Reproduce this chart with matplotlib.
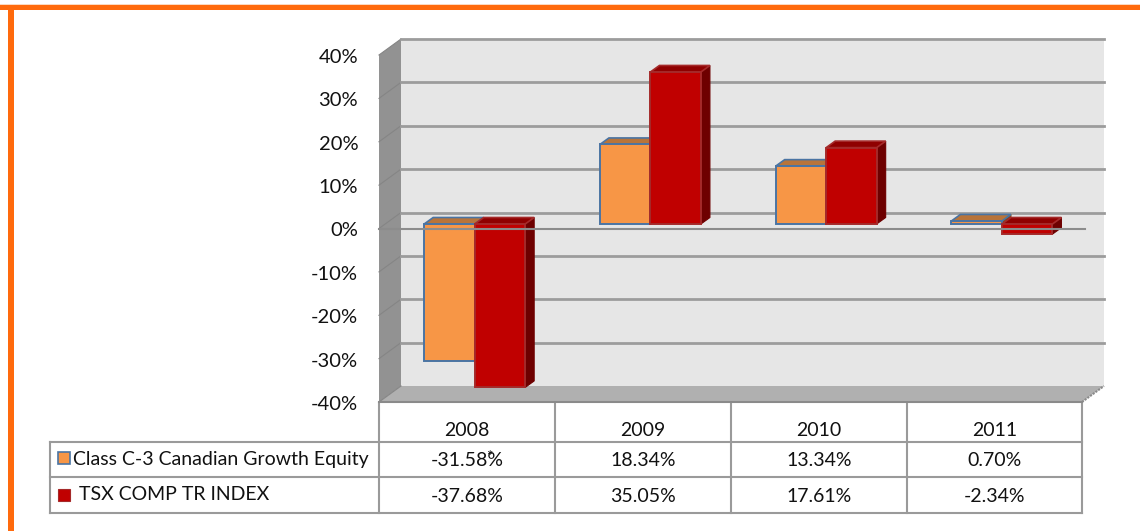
import numpy as np
import matplotlib
matplotlib.use('Agg')
import matplotlib.pyplot as plt
from matplotlib.patches import Polygon, Rectangle
from matplotlib.transforms import ScaledTranslation

plt.rcParams['font.family'] = ['Lato', 'DejaVu Sans']

years = ['2008', '2009', '2010', '2011']
fund_name = 'Class C-3 Canadian Growth Equity'
index_name = 'TSX COMP TR INDEX'
fund_vals = [-31.58, 18.34, 13.34, 0.70]
index_vals = [-37.68, 35.05, 17.61, -2.34]
yticks = [-40, -30, -20, -10, 0, 10, 20, 30, 40]

W, H = 1140, 531
fig = plt.figure(figsize=(W / 100, H / 100), dpi=100)

# overlay in pixels for the frame and the table
bg = fig.add_axes([0, 0, 1, 1])
bg.set_xlim(0, W)
bg.set_ylim(H, 0)
bg.axis('off')

# front plane of the 3d box
left, right, top, bottom = 379, 1082, 55, 402
ax = fig.add_axes([left / W, 1 - bottom / H, (right - left) / W, (bottom - top) / H])
ax.set_xlim(0, 4)
ax.set_ylim(-40, 40)
ax.patch.set_alpha(0)
for s in ax.spines.values():
    s.set_visible(False)

ux = (right - left) / 4
uy = (bottom - top) / 80


def px(dx, dy):
    return dx / ux, dy / uy


# walls
wx, wy = px(22, 16)
ax.add_patch(Polygon([(0, -40), (wx, -40 + wy), (wx, 40 + wy), (0, 40)], fc='#929292', ec='none', clip_on=False, zorder=1))
ax.add_patch(Polygon([(wx, -40 + wy), (4 + wx, -40 + wy), (4 + wx, 40 + wy), (wx, 40 + wy)], fc='#e6e6e6', ec='none', clip_on=False, zorder=1))
ax.add_patch(Polygon([(0, -40), (4, -40), (4 + wx, -40 + wy), (wx, -40 + wy)], fc='#b0b0b0', ec='none', clip_on=False, zorder=2))
for t in yticks:
    if t > -40:
        ax.plot([wx, 4 + wx], [t + wy, t + wy], color='#9c9c9c', lw=2, clip_on=False, zorder=3)
    ax.plot([0, wx], [t, t + wy], color='#858585', lw=0.8, clip_on=False, zorder=2)
ax.plot([4, 4 + wx], [-40, -40 + wy], color='#8a8a8a', lw=1.5, ls=(0, (1, 0.6)), clip_on=False, zorder=3)
ax.plot([0, 4], [-40, -40], color='#8a8a8a', lw=1.5, clip_on=False, zorder=3)


def bar3d(x0, val, width, front, side, topc, edge, z):
    ox, oy = px(7.8, 4.5)
    dx, dy = px(9, 6.5)
    x0 = x0 + ox
    x1 = x0 + width
    y0, y1 = oy, val + oy
    hi = max(y0, y1)
    ax.add_patch(Polygon([(x1, y0), (x1 + dx, y0 + dy), (x1 + dx, y1 + dy), (x1, y1)], fc=side, ec=side, lw=0.8, clip_on=False, zorder=z))
    ax.add_patch(Polygon([(x0, hi), (x1, hi), (x1 + dx, hi + dy), (x0 + dx, hi + dy)], fc=topc, ec=edge, lw=1.2, clip_on=False, zorder=z))
    ax.add_patch(Rectangle((x0, min(y0, y1)), width, abs(val), fc=front, ec=edge, lw=1.4, clip_on=False, zorder=z + 0.1))


bw = 50.5 / ux
for i in range(len(years)):
    c = i + 0.5
    bar3d(c - bw, fund_vals[i], bw, '#f79646', '#7a4a20', '#b8743a', '#4a74a3', 4)
    bar3d(c, index_vals[i], bw, '#c00000', '#6e0000', '#8f0000', '#a52a2a', 5)

# zero line sits in the front of the bars
ax.plot([0, 4 + px(3, 0)[0]], [0, 0], color='#8c8c8c', lw=1.5, clip_on=False, zorder=7)

ax.set_xticks([])
ax.set_yticks(yticks)
ax.set_yticklabels([f'{t}%' for t in yticks], fontsize=14.5, color='#111111')
ax.tick_params(axis='y', length=0, pad=15)
for lab in ax.get_yticklabels():
    lab.set_transform(lab.get_transform() + ScaledTranslation(0, -0.7 / 72, fig.dpi_scale_trans))

# page frame
bg.add_patch(Rectangle((0, 4), W, 1, fc='#fcd9c0', ec='none'))
bg.add_patch(Rectangle((0, 5), W, 5, fc='#ff6a0d', ec='none'))
bg.add_patch(Rectangle((8, 5), 5.5, H, fc='#ff6a0d', ec='none'))

# data table
cols = [379, 555, 731, 907, 1082]
rows = [442, 477, 513]
line = dict(color='#9a9a9a', lw=1.5, zorder=3)
bg.plot([50, 1082], [rows[0], rows[0]], **line)
bg.plot([50, 1082], [rows[1], rows[1]], **line)
bg.plot([50, 1082], [rows[2], rows[2]], **line)
bg.plot([50, 50], [rows[0], rows[2]], **line)
for x in cols:
    bg.plot([x, x], [403, rows[2]], **line)

for i, y in enumerate(years):
    xc = (cols[i] + cols[i + 1]) / 2
    bg.text(xc, 431, y, ha='center', va='center', fontsize=14, color='#111111')
    bg.text(xc, 461, f'{fund_vals[i]:.2f}%', ha='center', va='center', fontsize=14, color='#111111')
    bg.text(xc, 497, f'{index_vals[i]:.2f}%', ha='center', va='center', fontsize=14, color='#111111')
bg.text(489, 457, '*', ha='center', va='center', fontsize=11, color='#111111')

bg.add_patch(Rectangle((58, 452), 12, 12, fc='#f79646', ec='#4a74a3', lw=1.2))
bg.add_patch(Rectangle((58, 489), 12, 12, fc='#c00000', ec='#a52a2a', lw=0.8))
bg.text(73, 459, fund_name, ha='left', va='center', fontsize=14, color='#111111')
bg.text(79, 495, index_name, ha='left', va='center', fontsize=14, color='#111111')

fig.savefig('out.png', dpi=100, facecolor='white')
